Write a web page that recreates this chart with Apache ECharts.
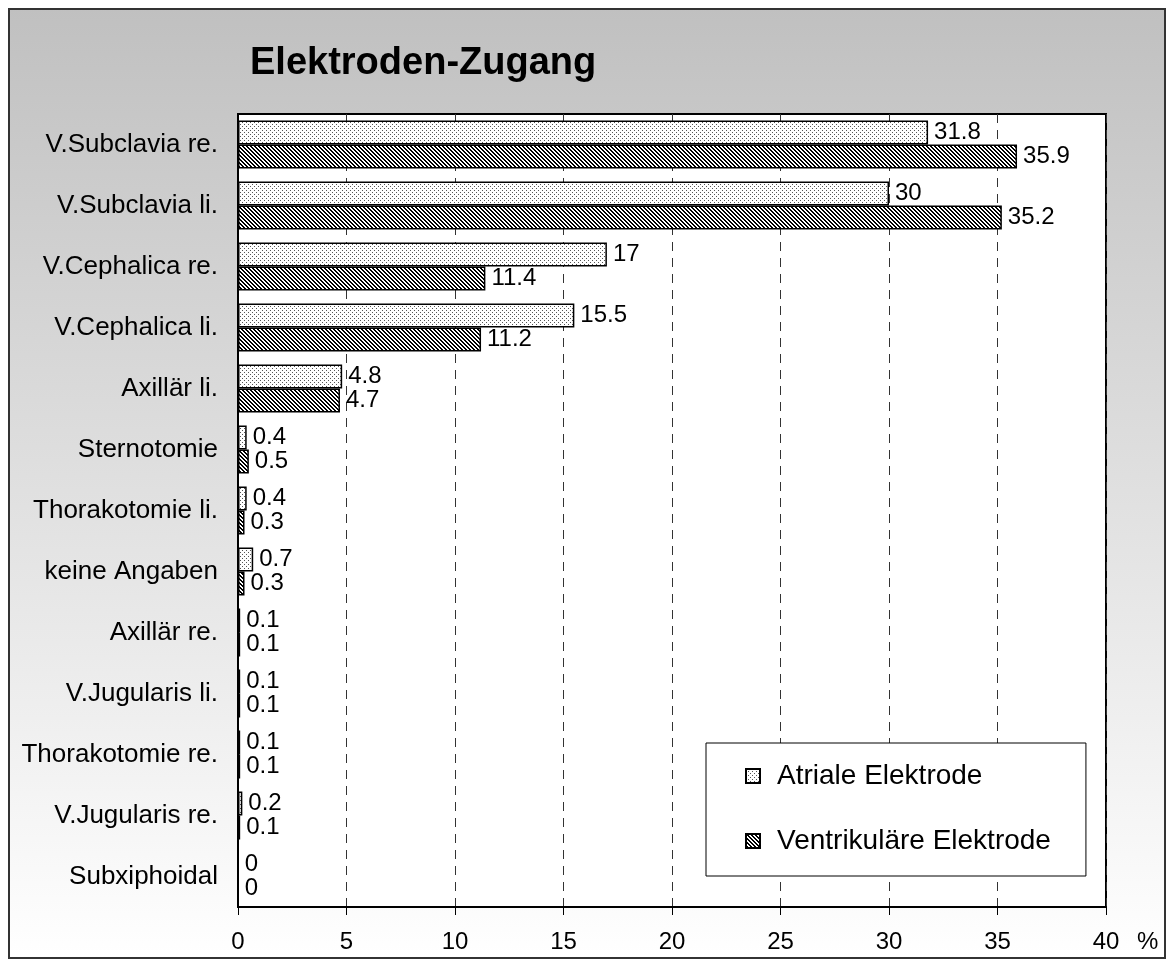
<!DOCTYPE html>
<html>
<head>
<meta charset="utf-8">
<script src="https://cdn.jsdelivr.net/npm/echarts@6.0.0/dist/echarts.min.js"></script>
<style>
html,body{margin:0;padding:0;background:#fff;}
#chart{width:1175px;height:970px;}
</style>
</head>
<body>
<div id="chart"></div>
<script>
const categories = [
  'V.Subclavia re.', 'V.Subclavia li.', 'V.Cephalica re.', 'V.Cephalica li.',
  'Axillär li.', 'Sternotomie', 'Thorakotomie li.', 'keine Angaben',
  'Axillär re.', 'V.Jugularis li.', 'Thorakotomie re.', 'V.Jugularis re.', 'Subxiphoidal'
];
const atriale = [31.8, 30, 17, 15.5, 4.8, 0.4, 0.4, 0.7, 0.1, 0.1, 0.1, 0.2, 0];
const ventrikulaer = [35.9, 35.2, 11.4, 11.2, 4.7, 0.5, 0.3, 0.3, 0.1, 0.1, 0.1, 0.1, 0];
const seriesNames = ['Atriale Elektrode', 'Ventrikuläre Elektrode'];
const titleText = 'Elektroden-Zugang';
const axisUnit = '%';
const xMin = 0, xMax = 40, xInterval = 5;

const FONT = '"Liberation Sans", Arial, Helvetica, sans-serif';

function makePattern(kind) {
  const c = document.createElement('canvas');
  c.width = 4; c.height = 4;
  const ctx = c.getContext('2d');
  ctx.fillStyle = '#ffffff';
  ctx.fillRect(0, 0, 4, 4);
  if (kind === 'dots') {
    ctx.fillStyle = '#555555';
    ctx.fillRect(0, 0, 1, 1);
    ctx.fillRect(2, 2, 1, 1);
  } else {
    ctx.fillStyle = '#000000';
    for (let y = 0; y < 4; y++) {
      for (let x = 0; x < 4; x++) {
        if (((x - y + 4) % 4) < 2) ctx.fillRect(x, y, 1, 1);
      }
    }
  }
  return c;
}
const patA = makePattern('dots');
const patV = makePattern('hatch');

const chart = echarts.init(document.getElementById('chart'), null, {renderer: 'canvas'});

const labelStyle = {
  show: true, position: 'right', distance: 6,
  fontSize: 24, fontFamily: FONT, color: '#000'
};

chart.setOption({
  animation: false,
  backgroundColor: '#ffffff',
  graphic: [
    {
      type: 'rect', z: -100, silent: true,
      shape: {x: 9, y: 9, width: 1156, height: 949},
      style: {
        fill: new echarts.graphic.LinearGradient(0, 0, 0, 1, [
          {offset: 0, color: '#c0c0c0'},
          {offset: 1, color: '#ffffff'}
        ]),
        stroke: '#333333', lineWidth: 2
      }
    },
    {
      type: 'text', z: 100, left: 1137, top: 930,
      style: {text: axisUnit, fontSize: 24, fontFamily: FONT, fill: '#000'}
    }
  ],
  title: {
    text: titleText,
    left: 245, top: 40,
    textStyle: {fontSize: 38, fontWeight: 'bold', fontFamily: FONT, color: '#000'}
  },
  legend: {
    orient: 'vertical',
    left: 706, top: 743,
    padding: [19, 35, 21, 39],
    itemGap: 37,
    itemWidth: 14, itemHeight: 14,
    icon: 'rect',
    backgroundColor: '#ffffff',
    borderColor: '#000000', borderWidth: 1,
    textStyle: {fontSize: 28, fontFamily: FONT, color: '#000', padding: [0, 0, 0, 12]},
    data: seriesNames
  },
  grid: {
    left: 238, right: 69, top: 114, bottom: 63,
    show: true, backgroundColor: '#ffffff',
    borderColor: '#000000', borderWidth: 2,
    containLabel: false
  },
  xAxis: {
    type: 'value', min: xMin, max: xMax, interval: xInterval,
    axisLine: {show: true, lineStyle: {color: '#000', width: 2}},
    axisTick: {show: true, length: 8, lineStyle: {color: '#000', width: 1}},
    axisLabel: {fontSize: 24, fontFamily: FONT, color: '#000', margin: 23},
    splitLine: {show: true, lineStyle: {type: [9, 7], color: '#333', width: 1}}
  },
  yAxis: {
    type: 'category', data: categories, inverse: true,
    axisLine: {show: true, lineStyle: {color: '#000', width: 2}},
    axisTick: {show: false},
    axisLabel: {fontSize: 26, fontFamily: FONT, color: '#000', margin: 20},
    splitLine: {show: false}
  },
  series: [
    {
      name: seriesNames[0], type: 'bar', data: atriale,
      barWidth: 24, barGap: '0%',
      itemStyle: {color: {image: patA, repeat: 'repeat'}, borderColor: '#000', borderWidth: 1.5},
      label: labelStyle
    },
    {
      name: seriesNames[1], type: 'bar', data: ventrikulaer,
      barWidth: 24, barGap: '0%',
      itemStyle: {color: {image: patV, repeat: 'repeat'}, borderColor: '#000', borderWidth: 1.5},
      label: labelStyle
    }
  ]
});
</script>
</body>
</html>
